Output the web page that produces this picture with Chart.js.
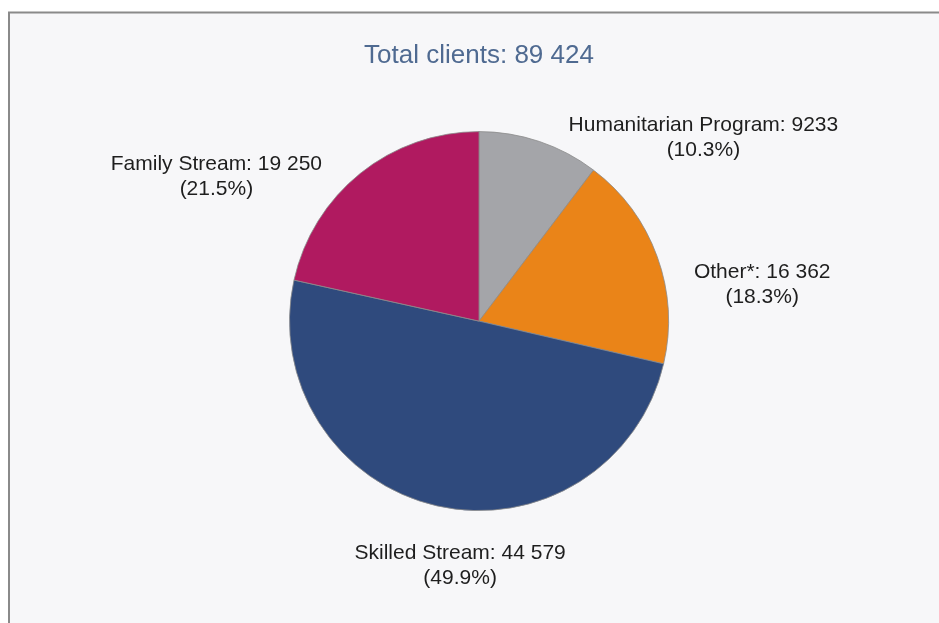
<!DOCTYPE html>
<html>
<head>
<meta charset="utf-8">
<script src="https://cdn.jsdelivr.net/npm/chart.js@4"></script>
<style>
    html, body { margin: 0; padding: 0; background: #ffffff; }
    #wrap { width: 939px; height: 623px; }
</style>
</head>
<body>
<div id="wrap"><canvas id="pieChart" width="939" height="623"></canvas></div>
<script>
// Client numbers by stream (clockwise from 12 o'clock)
const categories = ['Humanitarian Program', 'Other*', 'Skilled Stream', 'Family Stream'];
const clients = [9233, 16362, 44579, 19250];
const sliceColors = ['#a4a5a9', '#ea8418', '#2f4a7d', '#b01a60'];
// where each label sits, relative to the middle of its slice's outer edge
const labelOffsets = [[164, -4], [105, 28], [23, 60], [-144, 3]];

const total = clients.reduce((a, b) => a + b, 0);

// 19250 -> "19 250", 9233 stays "9233"
function formatNumber(n) {
    let s = String(n);
    if (n < 10000) return s;
    return s.replace(/\B(?=(\d{3})+(?!\d))/g, ' ');
}

// Framed light background like the scanned figure
const framePlugin = {
    id: 'frame',
    beforeDraw(chart) {
        const ctx = chart.ctx;
        ctx.save();
        ctx.fillStyle = '#f7f7f9';
        ctx.fillRect(9, 12, chart.width - 9, chart.height - 12);
        ctx.strokeStyle = '#8a8a8a';
        ctx.lineWidth = 2;
        ctx.beginPath();
        ctx.moveTo(chart.width, 12.5);
        ctx.lineTo(9, 12.5);
        ctx.lineTo(9, chart.height);
        ctx.stroke();
        ctx.restore();
    }
};

// Two-line labels next to each slice
const sliceLabels = {
    id: 'sliceLabels',
    afterDatasetsDraw(chart) {
        const ctx = chart.ctx;
        const meta = chart.getDatasetMeta(0);
        ctx.save();
        ctx.font = '21px "Liberation Sans", Arial, sans-serif';
        ctx.fillStyle = '#1e1e1e';
        ctx.textAlign = 'center';
        ctx.textBaseline = 'middle';
        meta.data.forEach((arc, i) => {
            const p = arc.getProps(['x', 'y', 'startAngle', 'endAngle', 'outerRadius'], true);
            const mid = (p.startAngle + p.endAngle) / 2;
            const x = p.x + Math.cos(mid) * p.outerRadius + labelOffsets[i][0];
            const y = p.y + Math.sin(mid) * p.outerRadius + labelOffsets[i][1];
            const pct = (clients[i] / total * 100).toFixed(1);
            ctx.fillText(categories[i] + ': ' + formatNumber(clients[i]), x, y - 12.5);
            ctx.fillText('(' + pct + '%)', x, y + 12.5);
        });
        ctx.restore();
    }
};

const ctx = document.getElementById('pieChart').getContext('2d');
new Chart(ctx, {
    type: 'pie',
    data: {
        labels: categories,
        datasets: [{
            data: clients,
            backgroundColor: sliceColors,
            borderColor: '#8c8c8c',
            borderWidth: 0.8
        }]
    },
    options: {
        responsive: false,
        animation: false,
        layout: {
            padding: { left: 19, right: 0, top: 0, bottom: 112 }
        },
        plugins: {
            legend: { display: false },
            tooltip: { enabled: true },
            title: {
                display: true,
                text: 'Total clients: ' + formatNumber(total),
                color: '#4f6a91',
                font: { family: '"Liberation Sans", Arial, sans-serif', size: 26, weight: 'normal' },
                padding: { top: 40, bottom: 60 }
            }
        }
    },
    plugins: [framePlugin, sliceLabels]
});
</script>
</body>
</html>
